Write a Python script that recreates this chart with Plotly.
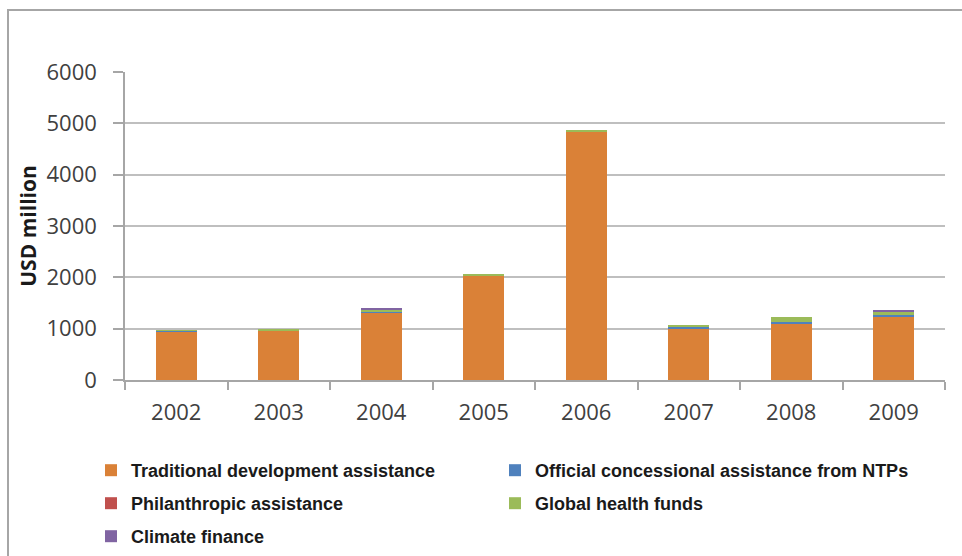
import plotly.graph_objects as go

years = ["2002", "2003", "2004", "2005", "2006", "2007", "2008", "2009"]
traditional = [935, 960, 1320, 2030, 4840, 985, 1095, 1225]
official_ntp = [30, 5, 20, 5, 5, 50, 40, 40]
philanthropic = [0, 0, 0, 0, 0, 0, 0, 0]
global_health = [5, 15, 25, 20, 20, 35, 85, 65]
climate = [0, 0, 20, 0, 0, 0, 0, 30]

series = [
    ("Traditional development assistance", traditional, "#DA8137", "legend"),
    ("Official concessional assistance from NTPs", official_ntp, "#4F81BD", "legend4"),
    ("Philanthropic assistance", philanthropic, "#C0504D", "legend2"),
    ("Global health funds", global_health, "#9BBB59", "legend5"),
    ("Climate finance", climate, "#8064A2", "legend3"),
]

fig = go.Figure()
for name, vals, col, lg in series:
    fig.add_trace(go.Bar(x=years, y=vals, name=name, marker_color=col,
                         marker_line_width=0, legend=lg, showlegend=True))

W, H = 962, 556
L, R, T, B = 125, 17, 72, 176
pw, ph = W - L - R, H - T - B

def px_to_paper_x(px):
    return (px - L) / pw

def px_to_paper_y(py):
    return (H - B - py) / ph

legend_font = dict(family="Liberation Sans, Arial, sans-serif",
                   size=18, color="#1a1a1a", weight="bold")

def legend_cfg(left_px, top_px):
    return dict(orientation="h", x=px_to_paper_x(left_px), y=px_to_paper_y(top_px),
                xanchor="left", yanchor="top", visible=True,
                font=legend_font, traceorder="normal", itemclick=False,
                bgcolor="rgba(0,0,0,0)")

fig.update_layout(
    width=W, height=H,
    showlegend=True,
    margin=dict(l=L, r=R, t=T, b=B, autoexpand=False),
    barmode="stack", bargap=0.6,
    plot_bgcolor="white", paper_bgcolor="white",
    font=dict(family="Open Sans, sans-serif", color="#404040"),
    legend=legend_cfg(91, 452),
    legend2=legend_cfg(91, 485),
    legend3=legend_cfg(91, 518),
    legend4=legend_cfg(495, 452),
    legend5=legend_cfg(495, 485),
    shapes=[dict(type="rect", xref="paper", yref="paper",
                 x0=px_to_paper_x(8), y0=px_to_paper_y(600),
                 x1=px_to_paper_x(1000), y1=px_to_paper_y(10),
                 line=dict(color="#A6A6A6", width=2), fillcolor="rgba(0,0,0,0)",
                 layer="below")],
)
fig.update_xaxes(type="category", showline=True, linecolor="#A6A6A6", linewidth=1.5,
                 ticks="outside", tickson="boundaries", ticklen=8,
                 tickcolor="#A6A6A6", tickwidth=1.5, ticklabelstandoff=12,
                 tickfont=dict(size=22, color="#404040"), showgrid=False)
fig.update_yaxes(range=[0, 6000], dtick=1000, showline=True, linecolor="#A6A6A6",
                 linewidth=1.5, ticks="outside", ticklen=10, tickcolor="#A6A6A6",
                 tickwidth=1.5, gridcolor="#BFBFBF", gridwidth=1.5,
                 tickfont=dict(size=22, color="#404040"), ticklabelstandoff=12,
                 title=dict(text="USD million", standoff=4,
                            font=dict(size=21, color="#1a1a1a", weight="bold")),
                 zeroline=False)

fig.write_html("out.html")
